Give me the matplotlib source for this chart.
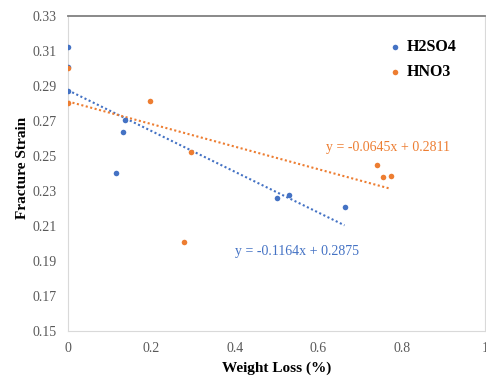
import matplotlib.pyplot as plt

plt.rcParams['font.family'] = ['Liberation Serif', 'DejaVu Serif']

# H2SO4 series
h2so4_x = [0.0, 0.0, 0.0, 0.137, 0.132, 0.115, 0.500, 0.530, 0.663]
h2so4_y = [0.312, 0.301, 0.287, 0.2706, 0.2637, 0.2403, 0.2258, 0.2277, 0.2209]
h2so4_fit = (-0.1164, 0.2875)

# HNO3 series
hno3_x = [0.0, 0.0, 0.197, 0.294, 0.279, 0.740, 0.756, 0.774]
hno3_y = [0.3003, 0.2803, 0.2813, 0.2521, 0.2007, 0.2450, 0.2382, 0.2386]
hno3_fit = (-0.0645, 0.2811)

blue = '#4472C4'
orange = '#ED7D31'

fig = plt.figure(figsize=(4.86, 3.79), dpi=100)
ax = fig.add_axes([0.140, 0.127, 0.858, 0.831])

for xs, ys, fit, c, name in [(h2so4_x, h2so4_y, h2so4_fit, blue, 'H2SO4'),
                             (hno3_x, hno3_y, hno3_fit, orange, 'HNO3')]:
    ax.scatter(xs, ys, s=16, color=c, label=name, zorder=3, linewidths=0)
    x0, x1 = min(xs), max(xs)
    ax.plot([x0, x1], [fit[1] + fit[0] * x0, fit[1] + fit[0] * x1],
            color=c, linestyle=(0, (1, 1.2)), linewidth=1.5, zorder=2)

ax.text(0.767, 0.2546, 'y = -0.0645x + 0.2811', color=orange, fontsize=10,
        ha='center', va='center')
ax.text(0.549, 0.1951, 'y = -0.1164x + 0.2875', color=blue, fontsize=10,
        ha='center', va='center')

ax.set_xlim(0, 1)
ax.set_ylim(0.15, 0.33)
ax.set_xticks([0, 0.2, 0.4, 0.6, 0.8, 1.0])
ax.set_xticklabels(['0', '0.2', '0.4', '0.6', '0.8', '1'])
ax.set_yticks([0.15, 0.17, 0.19, 0.21, 0.23, 0.25, 0.27, 0.29, 0.31, 0.33])
ax.set_yticklabels(['0.15', '0.17', '0.19', '0.21', '0.23', '0.25', '0.27', '0.29', '0.31', '0.33'])
ax.tick_params(length=0, labelsize=10, colors='#595959', pad=8)

for side in ['left', 'right', 'bottom']:
    ax.spines[side].set_color('#d9d9d9')
ax.spines['top'].set_color('#808080')
ax.spines['top'].set_linewidth(1.3)

ax.set_xlabel('Weight Loss (%)', fontsize=11, fontweight='bold', labelpad=5)
ax.set_ylabel('Fracture Strain', fontsize=11, fontweight='bold')
ax.yaxis.set_label_coords(-0.094, 0.517)

leg = ax.legend(loc='upper left', bbox_to_anchor=(0.746, 0.951), frameon=False,
                prop={'weight': 'bold', 'size': 11.5}, handletextpad=0.2,
                handlelength=1.0, borderpad=0, markerscale=1.0, labelspacing=0.55)

fig.savefig('out.png', dpi=100)
